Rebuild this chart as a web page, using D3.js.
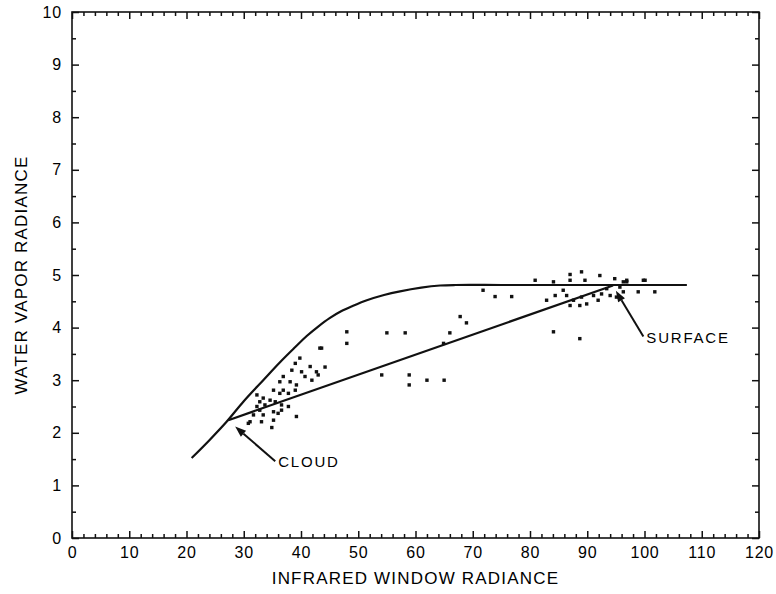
<!DOCTYPE html>
<html><head><meta charset="utf-8">
<script src="https://cdn.jsdelivr.net/npm/d3@7"></script>
<style>
body{margin:0;background:#fff;}
svg{display:block;}
text{font-family:"Liberation Sans",Arial,Helvetica,sans-serif;fill:#000;}
</style></head><body>
<svg id="c" width="776" height="594"></svg>
<script>
// ---- data ----
const xMajorTicks = [0,10,20,30,40,50,60,70,80,90,100,110,120];
const yMajorTicks = [0,1,2,3,4,5,6,7,8,9,10];
const xTitle = "INFRARED WINDOW RADIANCE";
const yTitle = "WATER VAPOR RADIANCE";

// upper envelope curve
const curveX = [20.9,24,27.0,30,33.4,36.5,39,41,43,45,47,49,51.5,54.5,57.3,61,64.3,67,75,85,95,107.4];
const curveY = [1.52,1.86,2.21,2.60,3.00,3.36,3.63,3.84,4.02,4.18,4.31,4.41,4.52,4.62,4.69,4.76,4.80,4.81,4.81,4.81,4.81,4.81];

// cloud-to-surface line
const lineX = [27.3, 94.5];
const lineY = [2.24, 4.80];

// scatter observations
const obsX = [43.3,39.8,39.0,41.6,38.4,40.1,42.7,43.0,36.9,40.7,41.9,36.3,38.1,39.2,35.2,36.9,39.0,36.3,37.8,32.3,33.4,34.6,32.8,35.5,33.7,32.3,36.6,37.8,32.8,35.2,36.6,31.7,33.4,36.0,39.2,31.1,33.1,35.2,34.9,30.8,
  48.0,48.0,55.0,58.2,43.6,44.2,67.8,68.9,66.0,64.9,54.1,58.9,58.9,62.0,65.0,
  87.0,89.0,87.0,84.1,92.2,94.8,89.6,84.4,85.8,86.4,82.9,87.6,89.0,89.9,87.0,88.7,91.9,92.5,91.1,84.1,88.7,93.4,95.7,96.3,94.0,95.1,96.9,
  71.8,73.9,76.8,80.9,100.1,101.8,98.9,96.9,99.8,96.3];
const obsY = [3.61,3.42,3.32,3.26,3.19,3.16,3.16,3.10,3.07,3.07,3.00,2.97,2.97,2.91,2.81,2.81,2.81,2.75,2.75,2.72,2.66,2.62,2.59,2.59,2.53,2.50,2.53,2.50,2.43,2.40,2.43,2.34,2.34,2.37,2.31,2.21,2.21,2.24,2.10,2.18,
  3.92,3.70,3.90,3.90,3.61,3.25,4.21,4.09,3.90,3.70,3.10,3.10,2.91,3.00,3.00,
  5.01,5.06,4.90,4.87,4.99,4.93,4.90,4.61,4.71,4.61,4.52,4.52,4.58,4.45,4.42,4.42,4.52,4.64,4.61,3.92,3.79,4.74,4.77,4.68,4.61,4.58,4.87,
  4.71,4.59,4.59,4.90,4.90,4.68,4.68,4.90,4.90,4.87];

// annotations
const annLabels = ["CLOUD","SURFACE"];
const annTipX = [28.5, 95.0];
const annTipY = [2.12, 4.70];
const annTailX = [35.5, 99.8];
const annTailY = [1.46, 3.83];

// ---- layout ----
const svg = d3.select("#c");
const L = 72, R = 759, T = 12, B = 538;
const x = d3.scaleLinear().domain([0,120]).range([L,R]);
const y = d3.scaleLinear().domain([0,10]).range([B,T]);

const xMinor = d3.range(0,121,2).filter(v => v % 10 !== 0);
const yMinor = d3.range(0.5,10,1);

function styleAxis(g){
  g.select(".domain").remove();
  g.selectAll("line").attr("stroke","#111").attr("stroke-width",1.5);
  g.selectAll("text").attr("font-size",16).attr("fill","#000").attr("letter-spacing",0.8)
    .attr("font-family","'Liberation Sans',Arial,sans-serif");
}

// bottom
svg.append("g").attr("transform",`translate(0,${B})`)
  .call(d3.axisBottom(x).tickValues(xMajorTicks).tickSize(-7).tickPadding(9).tickFormat(d3.format("d")))
  .call(styleAxis);
svg.append("g").attr("transform",`translate(0,${B})`)
  .call(d3.axisBottom(x).tickValues(xMinor).tickSize(-4).tickFormat(""))
  .call(styleAxis);
// top
svg.append("g").attr("transform",`translate(0,${T})`)
  .call(d3.axisTop(x).tickValues(xMajorTicks).tickSize(-7).tickFormat(""))
  .call(styleAxis);
svg.append("g").attr("transform",`translate(0,${T})`)
  .call(d3.axisTop(x).tickValues(xMinor).tickSize(-4).tickFormat(""))
  .call(styleAxis);
// left
svg.append("g").attr("transform",`translate(${L},0)`)
  .call(d3.axisLeft(y).tickValues(yMajorTicks).tickSize(-7).tickPadding(10).tickFormat(d3.format("d")))
  .call(styleAxis);
svg.append("g").attr("transform",`translate(${L},0)`)
  .call(d3.axisLeft(y).tickValues(yMinor).tickSize(-4).tickFormat(""))
  .call(styleAxis);
// right
svg.append("g").attr("transform",`translate(${R},0)`)
  .call(d3.axisRight(y).tickValues(yMajorTicks).tickSize(-7).tickFormat(""))
  .call(styleAxis);
svg.append("g").attr("transform",`translate(${R},0)`)
  .call(d3.axisRight(y).tickValues(yMinor).tickSize(-4).tickFormat(""))
  .call(styleAxis);

// frame
svg.append("rect").attr("x",L).attr("y",T).attr("width",R-L).attr("height",B-T)
  .attr("fill","none").attr("stroke","#111").attr("stroke-width",1.6);

// titles
svg.append("text").attr("x",(L+R)/2).attr("y",584).attr("text-anchor","middle")
  .attr("font-size",17).attr("letter-spacing",1.2).text(xTitle);
svg.append("text").attr("transform",`translate(27,${(T+B)/2}) rotate(-90)`)
  .attr("text-anchor","middle").attr("font-size",17).attr("letter-spacing",1.2).text(yTitle);

// upper curve
const curvePts = curveX.map((v,i)=>[v,curveY[i]]);
svg.append("path").datum(curvePts)
  .attr("d", d3.line().x(d=>x(d[0])).y(d=>y(d[1])).curve(d3.curveCatmullRom.alpha(0.5)))
  .attr("fill","none").attr("stroke","#111").attr("stroke-width",2.2);

// cloud-surface line
const linePts = lineX.map((v,i)=>[v,lineY[i]]);
svg.append("path").datum(linePts)
  .attr("d", d3.line().x(d=>x(d[0])).y(d=>y(d[1])))
  .attr("fill","none").attr("stroke","#111").attr("stroke-width",2.2);

// observations
svg.append("g").selectAll("rect").data(obsX.map((v,i)=>[v,obsY[i]])).join("rect")
  .attr("x",d=>x(d[0])-1.7).attr("y",d=>y(d[1])-1.7)
  .attr("width",3.4).attr("height",3.4).attr("fill","#111");

// annotations
annLabels.forEach((lab,i)=>{
  const x1 = x(annTailX[i]), y1 = y(annTailY[i]);
  const x2 = x(annTipX[i]), y2 = y(annTipY[i]);
  const ang = Math.atan2(y2-y1, x2-x1);
  const hl = 11, hw = 4;
  const bx = x2 - hl*Math.cos(ang), by = y2 - hl*Math.sin(ang);
  svg.append("line").attr("x1",x1).attr("y1",y1).attr("x2",bx).attr("y2",by)
    .attr("stroke","#111").attr("stroke-width",2);
  const p1 = [bx + hw*Math.sin(ang), by - hw*Math.cos(ang)];
  const p2 = [bx - hw*Math.sin(ang), by + hw*Math.cos(ang)];
  svg.append("path").attr("d",`M${x2},${y2}L${p1[0]},${p1[1]}L${p2[0]},${p2[1]}Z`).attr("fill","#111");
  svg.append("text").attr("x",x1+3).attr("y",y1+6).attr("font-size",15).attr("letter-spacing",1.8).text(lab);
});
</script>
</body></html>
